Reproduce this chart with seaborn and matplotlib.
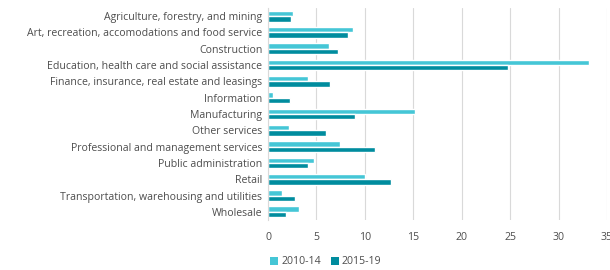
import matplotlib
matplotlib.use("Agg")
import matplotlib.pyplot as plt
import seaborn as sns
import pandas as pd
from matplotlib.patches import Patch

categories = [
    "Agriculture, forestry, and mining",
    "Art, recreation, accomodations and food service",
    "Construction",
    "Education, health care and social assistance",
    "Finance, insurance, real estate and leasings",
    "Information",
    "Manufacturing",
    "Other services",
    "Professional and management services",
    "Public administration",
    "Retail",
    "Transportation, warehousing and utilities",
    "Wholesale",
]
series_names = ["2010-14", "2015-19"]
values_2010_14 = [2.6, 8.8, 6.3, 33.1, 4.1, 0.5, 15.2, 2.2, 7.4, 4.8, 10.0, 1.4, 3.2]
values_2015_19 = [2.4, 8.3, 7.2, 24.8, 6.4, 2.3, 9.0, 6.0, 11.0, 4.1, 12.7, 2.8, 1.9]
x_ticks = [0, 5, 10, 15, 20, 25, 30, 35]

df = pd.DataFrame({
    "category": categories * 2,
    "value": values_2010_14 + values_2015_19,
    "period": [series_names[0]] * len(categories) + [series_names[1]] * len(categories),
})

sns.set_theme(style="white")
plt.rcParams["font.family"] = ["Open Sans", "DejaVu Sans"]
text_color = "#4D4D4D"

fig = plt.figure(figsize=(6.1, 2.7), dpi=100)
ax = fig.add_axes([268 / 610, 1 - 220 / 270, (607 - 268) / 610, (220 - 8) / 270])

palette = {"2010-14": "#45C6D6", "2015-19": "#008C9E"}
sns.barplot(data=df, y="category", x="value", hue="period", order=categories,
            hue_order=series_names, palette=palette, orient="h", width=0.66,
            saturation=1, ax=ax, legend=False)

ax.set_xlim(0, 35)
ax.set_xticks(x_ticks)
ax.set_xticklabels([str(t) for t in x_ticks])
ax.set_xlabel("")
ax.set_ylabel("")
ax.xaxis.grid(True, color="#D9D9D9", linewidth=0.8)
ax.set_axisbelow(True)
for s in ["top", "right", "bottom"]:
    ax.spines[s].set_visible(False)
ax.spines["left"].set_color("#D9D9D9")
ax.spines["left"].set_linewidth(0.8)
ax.tick_params(axis="both", length=0, colors=text_color, labelsize=7.6)
ax.tick_params(axis="x", pad=9)
ax.tick_params(axis="y", pad=4)

handles = [Patch(facecolor=palette[n], edgecolor="none", label=n) for n in series_names]
leg = fig.legend(handles=handles, loc="center", bbox_to_anchor=(326 / 610, 1 - 262 / 270),
                 ncol=2, frameon=False, fontsize=7.6, handlelength=0.7, handleheight=0.7,
                 handletextpad=0.3, columnspacing=1.0)
for t in leg.get_texts():
    t.set_color(text_color)

fig.savefig("out.png", dpi=100)
